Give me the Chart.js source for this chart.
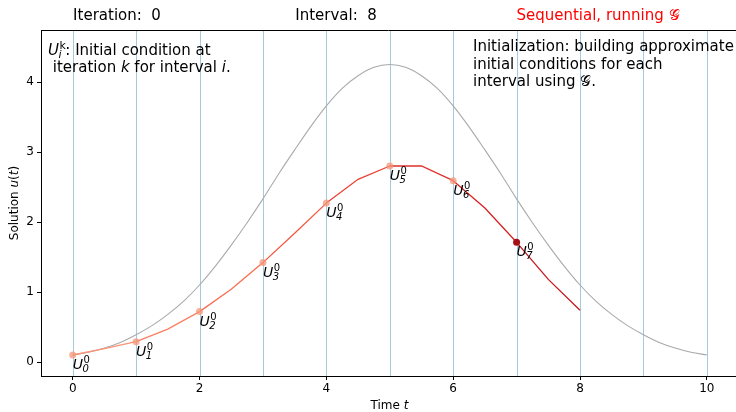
<!DOCTYPE html>
<html>
<head>
<meta charset="utf-8">
<script src="https://cdn.jsdelivr.net/npm/chart.js@4/dist/chart.umd.min.js"></script>
<style>
  html, body { margin: 0; padding: 0; background: #fff; overflow: hidden; width: 736px; height: 412px; }
</style>
</head>
<body>
<canvas id="chart" width="740" height="412"></canvas>
<script>
// Parareal-style view: exact solution (gray), coarse sweep (reds), interval edges (blue)

const fineT = [0, 0.25, 0.5, 0.75, 1, 1.25, 1.5, 1.75, 2, 2.25, 2.5, 2.75, 3, 3.25, 3.5, 3.75, 4, 4.25, 4.5, 4.75, 5,
  5.25, 5.5, 5.75, 6, 6.25, 6.5, 6.75, 7, 7.25, 7.5, 7.75, 8, 8.25, 8.5, 8.75, 9, 9.25, 9.5, 9.75, 10];
const fineU = [0.10, 0.14, 0.20, 0.28, 0.39, 0.52, 0.68, 0.87, 1.10, 1.37, 1.67, 1.99, 2.33, 2.69, 3.03, 3.36, 3.66, 3.91, 4.09, 4.21, 4.25,
  4.21, 4.09, 3.91, 3.66, 3.36, 3.03, 2.69, 2.33, 1.99, 1.67, 1.37, 1.10, 0.87, 0.68, 0.52, 0.39, 0.28, 0.20, 0.14, 0.10];

const coarseT = [0, 0.5, 1, 1.5, 2, 2.5, 3, 3.5, 4, 4.5, 5, 5.5, 6, 6.5, 7, 7.5, 8];
const coarseU = [0.10, 0.19, 0.29, 0.47, 0.72, 1.04, 1.42, 1.84, 2.27, 2.61, 2.80, 2.80, 2.59, 2.20, 1.71, 1.18, 0.74];

const startT = [0, 1, 2, 3, 4, 5, 6, 7];
const startU = [0.10, 0.29, 0.72, 1.42, 2.27, 2.80, 2.59, 1.71];

const intervalEdges = [0, 1, 2, 3, 4, 5, 6, 7, 8, 9, 10];
const xTicks = [0, 2, 4, 6, 8, 10];
const yTicks = [0, 1, 2, 3, 4];

const segmentColors = ["#fc9272", "#fb8063", "#f86d51", "#f4573f", "#ec4232", "#e0302a", "#d52221", "#c8161c"];
const oldPointColor = "rgba(244, 150, 120, 0.75)";
const currentPointColor = "#a50f15";

const FONT = "'DejaVu Sans', sans-serif";

function segmentDatasets() {
  const sets = [];
  for (let i = 0; i < segmentColors.length; i += 1) {
    const pts = [];
    for (let j = 0; j < coarseT.length; j += 1) {
      if (coarseT[j] >= startT[i] && coarseT[j] <= startT[i] + 1) {
        pts.push({ x: coarseT[j], y: coarseU[j] });
      }
    }
    sets.push({
      data: pts,
      borderColor: segmentColors[i],
      borderWidth: 1.3,
      pointRadius: 0,
      tension: 0,
      order: 2,
    });
  }
  return sets;
}

// vertical interval lines, drawn before datasets
const intervalLines = {
  id: "intervalLines",
  beforeDatasetsDraw(chart) {
    const { ctx, chartArea, scales } = chart;
    ctx.save();
    ctx.strokeStyle = "rgba(31,119,180,0.4)";
    ctx.lineWidth = 1;
    intervalEdges.forEach((t) => {
      const x = Math.round(scales.x.getPixelForValue(t)) + 0.5;
      ctx.beginPath();
      ctx.moveTo(x, chartArea.top);
      ctx.lineTo(x, chartArea.bottom);
      ctx.stroke();
    });
    ctx.restore();
  },
};

function drawU(ctx, x, y, sub, sup, size) {
  ctx.font = `italic ${size}px ${FONT}`;
  ctx.fillText("U", x, y);
  const w = ctx.measureText("U").width;
  const small = Math.round(size * 0.72);
  ctx.font = `${small}px ${FONT}`;
  ctx.fillText(sup, x + w + 0.5, y - size * 0.42);
  ctx.font = `italic ${small}px ${FONT}`;
  ctx.fillText(sub, x + w - 0.5, y + size * 0.22);
  ctx.font = `${small}px ${FONT}`;
  return w + Math.max(ctx.measureText(sub).width, ctx.measureText(sup).width);
}

function drawParts(ctx, parts, x, y, size) {
  parts.forEach(([s, it]) => {
    ctx.font = `${it ? "italic " : ""}${size}px ${FONT}`;
    ctx.fillText(s, x, y);
    x += ctx.measureText(s).width;
  });
}

function partsWidth(ctx, parts, size) {
  let total = 0;
  parts.forEach(([s, it]) => {
    ctx.font = `${it ? "italic " : ""}${size}px ${FONT}`;
    total += ctx.measureText(s).width;
  });
  return total;
}

const annotations = {
  id: "annotations",
  afterDraw(chart) {
    const { ctx, chartArea, scales } = chart;
    ctx.save();

    // top spine
    ctx.strokeStyle = "#000";
    ctx.lineWidth = 1;
    ctx.beginPath();
    ctx.moveTo(chartArea.left, chartArea.top + 0.5);
    ctx.lineTo(chartArea.right, chartArea.top + 0.5);
    ctx.stroke();

    ctx.fillStyle = "#000";
    ctx.textBaseline = "alphabetic";
    ctx.textAlign = "left";

    // point labels
    startT.forEach((t, i) => {
      const px = scales.x.getPixelForValue(t);
      const py = scales.y.getPixelForValue(startU[i]);
      drawU(ctx, px, py + 14, String(i), "0", 14);
    });

    // headers
    ctx.font = `15px ${FONT}`;
    ctx.textAlign = "center";
    ctx.fillText("Iteration:  0", 117, 20);
    ctx.fillText("Interval:  8", 336, 20);
    ctx.fillStyle = "#ff0000";
    ctx.fillText("Sequential, running \u{1D4A2}", 598, 20);

    // left note
    ctx.fillStyle = "#000";
    ctx.textAlign = "left";
    const w = drawU(ctx, 48, 55, "i", "k", 15);
    drawParts(ctx, [[": Initial condition at", false]], 48 + w, 55, 15);
    drawParts(ctx, [[" iteration ", false], ["k", true], [" for interval ", false], ["i", true], [".", false]], 48, 72, 15);

    // right note
    ctx.font = `15px ${FONT}`;
    ctx.fillText("Initialization: building approximate", 473, 51);
    ctx.fillText("initial conditions for each", 473, 68.5);
    ctx.fillText("interval using \u{1D4A2}.", 473, 86);

    // axis titles
    const xParts = [["Time ", false], ["t", true]];
    const cx = (chartArea.left + 738) / 2;
    drawParts(ctx, xParts, cx - partsWidth(ctx, xParts, 12) / 2, 409, 12);

    ctx.translate(18, (chartArea.top + chartArea.bottom) / 2);
    ctx.rotate(-Math.PI / 2);
    const yParts = [["Solution ", false], ["u", true], ["(", false], ["t", true], [")", false]];
    drawParts(ctx, yParts, -partsWidth(ctx, yParts, 12) / 2, 0, 12);

    ctx.restore();
  },
};

const datasets = [
  {
    data: fineT.map((t, i) => ({ x: t, y: fineU[i] })),
    borderColor: "#aaaaaa",
    borderWidth: 1.1,
    pointRadius: 0,
    cubicInterpolationMode: "monotone",
    order: 3,
  },
  ...segmentDatasets(),
  {
    data: startT.map((t, i) => ({ x: t, y: startU[i] })),
    showLine: false,
    pointRadius: 3.5,
    pointBorderWidth: 0,
    pointBackgroundColor: startT.map((_, i) => (i === startT.length - 1 ? currentPointColor : oldPointColor)),
    order: 1,
  },
];

new Chart(document.getElementById("chart"), {
  type: "line",
  data: { datasets },
  plugins: [intervalLines, annotations],
  options: {
    responsive: false,
    animation: false,
    devicePixelRatio: 1,
    layout: { padding: { top: 30, right: 0, left: 0, bottom: 0 } },
    plugins: { legend: { display: false }, tooltip: { enabled: false } },
    scales: {
      x: {
        type: "linear",
        min: -0.5,
        max: 10.46,
        afterBuildTicks: (s) => { s.ticks = xTicks.map((v) => ({ value: v })); },
        afterFit: (s) => { s.height = 36; s.paddingLeft = 0; s.paddingRight = 0; },
        ticks: { color: "#000", font: { family: FONT, size: 12 }, padding: 2, maxRotation: 0 },
        grid: { drawOnChartArea: false, drawTicks: true, tickLength: 4, tickColor: "#000" },
        border: { display: true, color: "#000", width: 1 },
      },
      y: {
        type: "linear",
        min: -0.2,
        max: 4.743,
        afterBuildTicks: (s) => { s.ticks = yTicks.map((v) => ({ value: v })); },
        afterFit: (s) => { s.width = 41; s.paddingTop = 0; s.paddingBottom = 0; },
        ticks: { color: "#000", font: { family: FONT, size: 12 }, padding: 3 },
        grid: { drawOnChartArea: false, drawTicks: true, tickLength: 4, tickColor: "#000" },
        border: { display: true, color: "#000", width: 1 },
      },
    },
  },
});
</script>
</body>
</html>
